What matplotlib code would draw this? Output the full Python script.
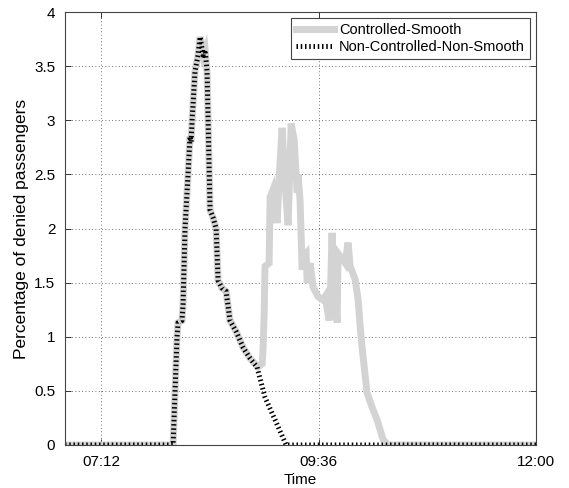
import matplotlib
matplotlib.use("Agg")
import matplotlib.pyplot as plt
from matplotlib.ticker import FuncFormatter

plt.rcParams['font.family'] = ['Liberation Sans', 'DejaVu Sans']
plt.rcParams['font.size'] = 10

# time in minutes after midnight, percentage of denied passengers
t_nc = [408, 479.6, 480.9, 482.2, 482.9, 485.5, 486.2, 487.5, 489.5, 490.8, 491.5,
        492.2, 494.1, 496.1, 497.5, 499.5, 500.8, 502.1, 502.8, 504.1, 506.1, 508.1,
        509.4, 512.0, 514.7, 517.3, 521.3, 526.0, 530.6, 535.2, 540.5, 547.2, 554.5, 720]
v_nc = [0, 0, 0.5, 1.0, 1.13, 1.15, 1.3, 2.0, 2.5, 2.85, 2.8,
        3.0, 3.45, 3.6, 3.77, 3.6, 3.65, 3.45, 3.0, 2.17, 2.1, 2.0,
        1.52, 1.45, 1.42, 1.15, 1.05, 0.9, 0.8, 0.72, 0.44, 0.23, 0, 0]

t_c = [408, 479.6, 480.9, 482.2, 482.9, 485.5, 486.2, 487.5, 489.5, 490.8, 491.5,
       492.2, 494.1, 496.1, 497.5, 499.5, 500.8, 502.1, 502.8, 504.1, 506.1, 508.1,
       509.4, 512.0, 514.7, 517.3, 521.3, 526.0, 530.6,
       533.9, 535.9, 538.6, 539.2, 539.9, 540.5, 543.2, 543.9, 545.8, 547.2, 548.5,
       549.8, 551.8, 553.8, 555.8, 557.8, 559.8, 561.8, 562.4, 563.7, 565.1, 566.4,
       567.7, 568.4, 570.4, 572.3, 575.7, 579.0, 580.3, 583.0, 583.6, 584.9, 585.6,
       588.3, 588.9, 591.6, 593.6, 595.5, 596.9, 600.2, 602.2, 603.5, 604.8, 608.1,
       611.4, 614.8, 618.7, 622.0, 720]
v_c = [0, 0, 0.5, 1.0, 1.13, 1.15, 1.3, 2.0, 2.5, 2.85, 2.8,
       3.0, 3.45, 3.6, 3.77, 3.6, 3.65, 3.45, 3.0, 2.17, 2.1, 2.0,
       1.52, 1.45, 1.42, 1.15, 1.05, 0.9, 0.8,
       0.75, 0.72, 0.75, 0.88, 1.2, 1.65, 1.68, 2.29, 2.36, 2.2, 2.05,
       2.45, 2.93, 2.4, 2.03, 2.97, 2.82, 2.33, 2.5, 2.26, 1.62, 1.75,
       1.77, 1.5, 1.68, 1.46, 1.37, 1.34, 1.37, 1.15, 1.28, 1.96, 1.6,
       1.13, 1.77, 1.72, 1.68, 1.87, 1.65, 1.53, 1.34, 1.1, 0.9, 0.48,
       0.35, 0.23, 0.05, 0, 0]

xticks = [432, 576, 720]
yticks = [0, 0.5, 1, 1.5, 2, 2.5, 3, 3.5, 4]


def hhmm(x, pos):
    return "%02d:%02d" % (int(x) // 60, int(x) % 60)


fig = plt.figure(figsize=(5.69, 4.88), dpi=100)
ax = fig.add_axes([65 / 569, 43 / 488, 471 / 569, 433 / 488])

ax.plot(t_c, v_c, color='#d3d3d3', lw=5, solid_joinstyle='miter',
        label='Controlled-Smooth')
ax.plot(t_nc, v_nc, color='black', lw=3.6, dashes=(0.3, 0.55),
        dash_capstyle='butt', label='Non-Controlled-Non-Smooth')

ax.set_xlim(408, 720)
ax.set_ylim(0, 4)
ax.set_xticks(xticks)
ax.set_yticks(yticks)
ax.xaxis.set_major_formatter(FuncFormatter(hhmm))
ax.yaxis.set_major_formatter(FuncFormatter(lambda y, p: "%g" % y))

ax.grid(True, color='#444444', lw=0.6, dashes=(1, 3))
ax.tick_params(direction='in', length=4, width=0.7, top=True, right=True,
               colors='#333333', labelcolor='black', labelsize=11, pad=7)
for s in ax.spines.values():
    s.set_linewidth(0.8)
    s.set_color('#444444')

ax.set_xlabel('Time', fontsize=11, labelpad=3)
ax.set_ylabel('Percentage of denied passengers', fontsize=12.5, labelpad=4)

leg = ax.legend(loc='upper right', fontsize=10.5, handlelength=2.6,
                borderaxespad=0.4, fancybox=False, framealpha=1,
                borderpad=0.35, labelspacing=0.2, handletextpad=0.35)
leg.get_frame().set_edgecolor('#444444')
leg.get_frame().set_linewidth(0.8)

fig.savefig('out.png', dpi=100)
